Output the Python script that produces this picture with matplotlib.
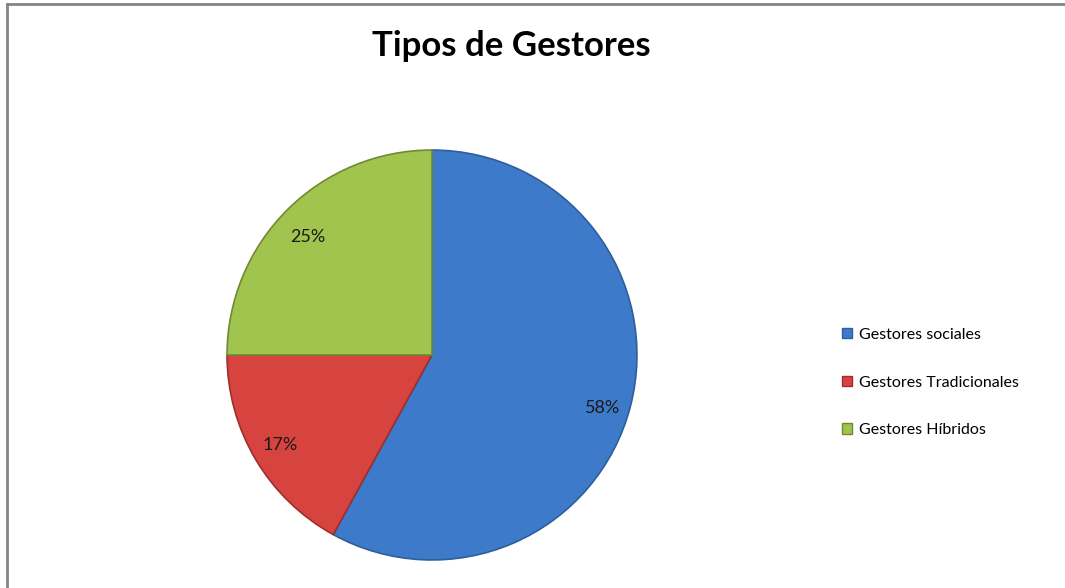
import matplotlib
matplotlib.use('Agg')
import matplotlib.pyplot as plt
from matplotlib.lines import Line2D
from matplotlib.patches import Patch

# Gestores data
labels = ['Gestores sociales', 'Gestores Tradicionales', 'Gestores Híbridos']
values = [58, 17, 25]
colors = ['#3D7ACA', '#D7433F', '#A0C44E']
edge_colors = ['#2F5E9C', '#9E2E2B', '#6F8A33']
label_nudge = [-0.045, 0.0, -0.03]  # small vertical tweaks for the % labels

plt.rcParams['font.family'] = ['Lato', 'DejaVu Sans']

fig = plt.figure(figsize=(10.65, 5.88), dpi=100)
fig.patch.set_facecolor('white')

# frame lines (left and top only, the rest is cropped)
fig.add_artist(Line2D([6.5 / 1065, 6.5 / 1065], [0, 1 - 4 / 588],
                      transform=fig.transFigure, color='#858585', lw=2))
fig.add_artist(Line2D([6.5 / 1065, 1], [1 - 4 / 588, 1 - 4 / 588],
                      transform=fig.transFigure, color='#858585', lw=2))

ax = fig.add_axes([225 / 1065, 26 / 588, 414 / 1065, 414 / 588])
wedges, texts, autotexts = ax.pie(values, colors=colors, startangle=90, counterclock=False,
                                  autopct='%d%%', pctdistance=0.86, radius=1,
                                  textprops={'fontsize': 13, 'color': '#1a1a1a'})
for w, ec in zip(wedges, edge_colors):
    w.set_edgecolor(ec)
    w.set_linewidth(1.2)
for t, dy in zip(autotexts, label_nudge):
    x, y = t.get_position()
    t.set_position((x, y + dy))
ax.set_xlim(-1.01, 1.01)
ax.set_ylim(-1.01, 1.01)
ax.set_aspect('equal')
ax.axis('off')

fig.text(511 / 1065, 1 - 46 / 588, 'Tipos de Gestores', ha='center', va='center',
         fontsize=25, fontweight='bold', color='black')

handles = [Patch(facecolor=c, edgecolor=e) for c, e in zip(colors, edge_colors)]
fig.legend(handles, labels, loc='upper left', bbox_to_anchor=(842 / 1065, 1 - 328 / 588),
           frameon=False, fontsize=11.5, handlelength=0.6, handleheight=0.6,
           handletextpad=0.45, labelspacing=2.1, borderaxespad=0, borderpad=0)

fig.savefig('out.png', dpi=100)
